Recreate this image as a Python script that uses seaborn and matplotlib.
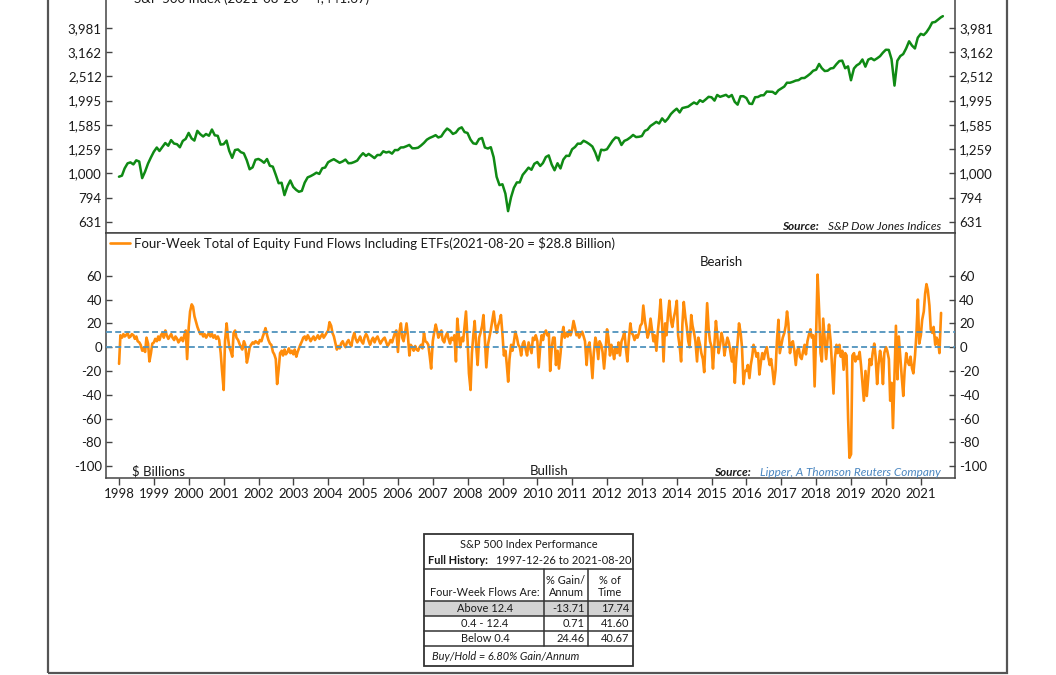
import matplotlib
matplotlib.use("Agg")
import matplotlib.pyplot as plt
import numpy as np
import pandas as pd
import seaborn as sns
from matplotlib.ticker import FixedLocator, FuncFormatter, NullLocator
from matplotlib.patches import Rectangle
from matplotlib.lines import Line2D
from matplotlib.transforms import Affine2D, IdentityTransform

# ---------------- data ----------------
sp500_start = "1997-12-31"          # month-end closes from this month on
sp500_monthly = [
    970,
    980, 1049, 1101, 1111, 1090, 1133, 1120, 957, 1017, 1098, 1163, 1229,
    1279, 1238, 1286, 1335, 1301, 1372, 1328, 1320, 1282, 1362, 1388, 1469,
    1394, 1366, 1498, 1452, 1420, 1454, 1430, 1517, 1436, 1429, 1315, 1320,
    1366, 1240, 1160, 1249, 1256, 1224, 1211, 1134, 1041, 1060, 1139, 1148,
    1130, 1107, 1147, 1076, 1067, 990, 912, 916, 815, 886, 936, 880,
    856, 841, 848, 917, 964, 975, 990, 1008, 996, 1051, 1058, 1112,
    1131, 1145, 1126, 1107, 1121, 1141, 1102, 1104, 1115, 1130, 1174, 1212,
    1181, 1204, 1181, 1157, 1192, 1191, 1234, 1220, 1229, 1207, 1249, 1248,
    1280, 1281, 1295, 1311, 1270, 1270, 1277, 1304, 1336, 1378, 1401, 1418,
    1438, 1407, 1421, 1482, 1531, 1503, 1455, 1474, 1527, 1549, 1481, 1468,
    1379, 1331, 1323, 1386, 1400, 1280, 1267, 1283, 1166, 969, 896, 903,
    826, 700, 798, 873, 919, 919, 987, 1021, 1057, 1036, 1096, 1115,
    1074, 1104, 1169, 1187, 1089, 1031, 1102, 1049, 1141, 1183, 1181, 1258,
    1286, 1327, 1326, 1364, 1345, 1321, 1292, 1219, 1131, 1253, 1247, 1258,
    1312, 1366, 1408, 1398, 1310, 1362, 1379, 1407, 1441, 1412, 1416, 1426,
    1498, 1515, 1569, 1598, 1631, 1606, 1686, 1633, 1682, 1757, 1806, 1848,
    1783, 1859, 1872, 1884, 1924, 1960, 1931, 2003, 1972, 2018, 2068, 2059,
    1995, 2105, 2068, 2086, 2107, 2063, 2104, 1972, 1920, 2079, 2080, 2044,
    1940, 1932, 2060, 2065, 2097, 2099, 2174, 2171, 2168, 2126, 2199, 2239,
    2279, 2364, 2363, 2384, 2412, 2423, 2470, 2472, 2519, 2575, 2648, 2674,
    2824, 2714, 2641, 2648, 2705, 2718, 2816, 2902, 2914, 2712, 2760, 2420,
    2704, 2784, 2834, 2946, 2752, 2942, 2980, 2926, 2977, 3038, 3141, 3231,
    3226, 2954, 2300, 2912, 3044, 3100, 3271, 3500, 3363, 3270, 3622, 3756,
    3714, 3811, 3973, 4181, 4204, 4298, 4395,
]
sp500_last_date = "2021-08-20"
sp500_last_value = 4441.67

# four-week equity fund flows, $ billions, two readings per month (1st, 15th)
flows_1998 = [-14, 10, 8, 11, 9, 10, 12, 8, 9, 11, 10, 7, 9, 5, 4, 2, -3, -1, -4, 8, 3, -12, -5, 3]
flows_1999 = [4, 7, 5, 9, 6, 10, 12, 8, 14, 10, 7, 9, 11, 8, 6, 9, 7, 4, 6, 8, 5, 10, 14, -10]
flows_2000 = [17, 30, 36, 34, 26, 22, 17, 14, 11, 12, 9, 11, 8, 10, 12, 9, 11, 8, 10, 7, 9, 6, -5, -20]
flows_2001 = [-36, 5, 20, 8, 0, -3, -8, 12, 14, 8, 6, 3, 0, -2, 5, 2, -13, -8, 0, 2, 4, 3, 5, 4]
flows_2002 = [3, 6, 5, 9, 12, 16, 10, 6, 3, 2, -4, -6, -10, -31, -18, -5, -3, -7, -2, -6, -4, -1, -5, -3]
flows_2003 = [-6, -2, -8, -4, -1, 2, 5, 8, 9, 6, 10, 8, 5, 7, 9, 6, 8, 10, 7, 9, 11, 8, 10, 12]
flows_2004 = [14, 21, 18, 12, 9, 4, -2, 1, -1, 3, 5, 2, 0, 4, 6, 3, 1, 8, 12, 7, 4, 6, 9, 5]
flows_2005 = [3, 8, 11, 9, 5, 2, 6, 8, 4, 7, 9, 6, 3, 5, 7, 8, 4, 1, 3, 6, 4, 8, 12, 14]
flows_2006 = [-4, 12, 20, 8, 5, 11, 20, 10, -7, 2, 0, -3, 1, -2, -3, 0, 2, -1, 12, 5, 4, 2, -8, -18]
flows_2007 = [5, 12, 19, 14, 8, 11, 14, 6, 4, 9, 12, 7, 3, 8, 6, 10, -12, 24, 10, 0, 8, 5, 18, 30]
flows_2008 = [5, -22, -36, -5, 10, 22, 0, -15, 8, 12, 18, 27, 5, -17, 2, 8, 15, 22, 30, 20, 12, 18, 22, 27]
flows_2009 = [10, -7, -3, -15, -29, -10, 2, -3, 5, 13, 8, 2, 0, -7, 3, 5, -2, -7, 4, 0, -5, 8, 6, 10]
flows_2010 = [5, -17, 2, 10, 6, 12, 14, 10, 12, -20, 0, 8, 8, -15, -3, -18, -5, 10, 17, 8, 12, 9, 14, 10]
flows_2011 = [15, 22, 16, 10, 12, 8, 11, 13, 9, 5, -15, 0, 4, -8, -26, -5, 8, 3, -10, 5, 2, -4, -18, -5]
flows_2012 = [15, 8, -7, 2, -3, -10, 0, -5, 4, -7, 5, 8, 13, 0, -12, 5, 20, 12, 10, 6, 10, 8, 12, 18]
flows_2013 = [20, 35, 22, 15, 8, 12, 24, 15, 5, 10, -3, 12, 25, 40, 18, -12, 20, 10, 28, 39, 22, 17, 25, 30]
flows_2014 = [39, 10, 0, -12, 20, 38, 25, 17, 5, 0, 27, 18, 12, 5, -12, 8, 2, -5, -10, -21, 10, 37, 15, 5]
flows_2015 = [0, -18, 5, 22, 10, -5, 3, 12, 6, -7, 2, 8, 4, -3, -12, 0, -30, -10, 5, 20, 12, 0, -31, -20]
flows_2016 = [-20, -15, -26, -15, -8, 2, -3, -8, -5, -23, -12, -5, -10, -4, 0, -8, -15, -10, -20, -31, -19, 5, 23, -5]
flows_2017 = [2, 8, 12, 18, 30, 20, -5, 3, 5, -2, -15, -3, 0, -8, -10, -4, 2, -6, 5, 10, 15, 8, 10, -33]
flows_2018 = [15, 61, 30, -5, -12, 24, 5, -10, 8, 19, 5, -15, -39, -10, 2, -5, 2, -8, -3, -19, -5, -7, -60, -93]
flows_2019 = [-90, -7, -5, -12, -8, -10, -4, -15, -31, -45, -20, -41, -25, -10, -15, -5, 3, -8, -31, -15, -3, -10, -31, -5]
flows_2020 = [0, -3, -10, -45, -30, -68, -20, 18, -27, 9, -10, -25, -41, -20, -5, -12, -15, -8, -18, -22, -7, 10, 40, 3]
flows_2021 = [10, 23, 30, 45, 53, 48, 35, 15, 12, 17, 2, 8, 5, -5, 28.8]

upper_threshold = 12.4
lower_threshold = 0.4

sp_ticks = [631, 794, 1000, 1259, 1585, 1995, 2512, 3162, 3981]
flow_ticks = [60, 40, 20, 0, -20, -40, -60, -80, -100]
year_ticks = list(range(1998, 2022))

table_title = "S&P 500 Index Performance"
table_history = "1997-12-26 to 2021-08-20"
table_labels = ["Above 12.4", "0.4 - 12.4", "Below 0.4"]
table_gain = ["-13.71", "0.71", "24.46"]
table_time = ["17.74", "41.60", "40.67"]
table_footer = "Buy/Hold = 6.80% Gain/Annum"

# ---------------- frames ----------------
sp_dates = list(pd.date_range(sp500_start, periods=len(sp500_monthly), freq="ME"))
sp_df = pd.DataFrame({"date": sp_dates + [pd.Timestamp(sp500_last_date)],
                      "value": sp500_monthly + [sp500_last_value]})

flow_lists = [flows_1998, flows_1999, flows_2000, flows_2001, flows_2002, flows_2003,
              flows_2004, flows_2005, flows_2006, flows_2007, flows_2008, flows_2009,
              flows_2010, flows_2011, flows_2012, flows_2013, flows_2014, flows_2015,
              flows_2016, flows_2017, flows_2018, flows_2019, flows_2020, flows_2021]
f_dates, f_vals = [], []
for yr, vals in zip(range(1998, 2022), flow_lists):
    f_dates += list(pd.date_range(f"{yr}-01-01", periods=len(vals), freq="SMS"))
    f_vals += vals
flow_df = pd.DataFrame({"date": f_dates, "value": f_vals})

# ---------------- style ----------------
sns.set_style("white")
plt.rcParams["font.family"] = ["Lato", "DejaVu Sans"]
plt.rcParams["axes.edgecolor"] = "#444444"
plt.rcParams["axes.linewidth"] = 1.1

W, H = 1056, 675
fig = plt.figure(figsize=(W / 100, H / 100), dpi=100)


def rect(x0, y0, x1, y1):
    return [x0 / W, 1 - y1 / H, (x1 - x0) / W, (y1 - y0) / H]


AX_L, AX_R = 106, 955
TOP_T, MID, BOT = -12, 233, 478
ax1 = fig.add_axes(rect(AX_L, TOP_T, AX_R, MID))
ax2 = fig.add_axes(rect(AX_L, MID, AX_R, BOT), sharex=ax1)

GREEN = "#0f8a14"
ORANGE = "#ff8c0a"
DASH = "#4f93bd"
TXT = "#1a1a1a"
FS = 9.5

sns.lineplot(data=sp_df, x="date", y="value", ax=ax1, color=GREEN, lw=1.8,
             label="S&P 500 Index (2021-08-20 = 4,441.67)")
ax1.set_yscale("log")
ax1.set_ylim(569, 5800)
ax1.yaxis.set_major_locator(FixedLocator(sp_ticks))
ax1.yaxis.set_minor_locator(NullLocator())
ax1.yaxis.set_major_formatter(FuncFormatter(lambda v, p: f"{v:,.0f}"))

sns.lineplot(data=flow_df, x="date", y="value", ax=ax2, color=ORANGE, lw=1.9,
             label="Four-Week Total of Equity Fund Flows Including ETFs(2021-08-20 = $28.8 Billion)")
for thr in (upper_threshold, lower_threshold):
    ax2.axhline(thr, color=DASH, lw=1.3, ls=(0, (3.3, 1.8)), zorder=3)
ax2.set_ylim(-110, 96)
ax2.yaxis.set_major_locator(FixedLocator(flow_ticks))
ax2.yaxis.set_major_formatter(FuncFormatter(lambda v, p: f"{v:.0f}"))

ax2.set_xlim(pd.Timestamp("1997-08-17"), pd.Timestamp("2021-12-25"))
ax2.set_xticks([pd.Timestamp(f"{y}-01-01") for y in year_ticks])
ax2.set_xticklabels([str(y) for y in year_ticks])

for ax in (ax1, ax2):
    ax.set_xlabel("")
    ax.set_ylabel("")
    ax.tick_params(axis="y", which="both", left=True, right=True, labelleft=True,
                   labelright=True, direction="in", length=4, width=1,
                   colors="#444444", labelcolor=TXT, labelsize=FS, pad=3)
    for s in ax.spines.values():
        s.set_visible(True)
        s.set_color("#444444")
ax1.tick_params(axis="x", bottom=False, labelbottom=False)
ax2.tick_params(axis="x", bottom=True, direction="out", length=5, width=1,
                colors="#444444", labelcolor=TXT, labelsize=FS, pad=2)

for ax in (ax1, ax2):
    ax.legend(loc="upper left", frameon=False, fontsize=FS, handlelength=1.5,
              handletextpad=0.35, borderaxespad=0.15, borderpad=0.15,
              labelcolor=TXT)


# ---------------- annotations ----------------
def ax2_xy(x, y):
    return ((x - AX_L) / (AX_R - AX_L), (BOT - y) / (BOT - MID))


def ax1_xy(x, y):
    return ((x - AX_L) / (AX_R - AX_L), (MID - y) / (MID - TOP_T))


ax2.text(*ax2_xy(721, 262), "Bearish", transform=ax2.transAxes, ha="center",
         va="center", fontsize=FS, color=TXT)
ax2.text(*ax2_xy(549, 471), "Bullish", transform=ax2.transAxes, ha="center",
         va="center", fontsize=FS, color=TXT)
ax2.text(*ax2_xy(132, 471), "$ Billions", transform=ax2.transAxes, ha="left",
         va="center", fontsize=FS, color=TXT)

src_fs = 8.5
name2 = ax2.text(*ax2_xy(941, 472), "Lipper, A Thomson Reuters Company",
                 transform=ax2.transAxes, ha="right", va="center",
                 fontsize=src_fs, style="italic", color="#4a86c0")
name1 = ax1.text(*ax1_xy(941, 226), "S&P Dow Jones Indices",
                 transform=ax1.transAxes, ha="right", va="center",
                 fontsize=src_fs, style="italic", color=TXT)

fig.canvas.draw()
renderer = fig.canvas.get_renderer()
for nm, ax, yy in ((name2, ax2, 472), (name1, ax1, 226)):
    bb = nm.get_window_extent(renderer)
    fig.text(bb.x0 - 9, H - yy, "Source:", transform=IdentityTransform(),
             ha="right", va="center", fontsize=src_fs, style="italic",
             weight="bold", color=TXT)

# outer frame
fig.add_artist(Rectangle((48 / W, 2 / H), (1007 - 48) / W, 1.2,
                         transform=fig.transFigure, fill=False,
                         ec="#555555", lw=1.6))

# ---------------- table ----------------
pix = Affine2D().scale(1 / W, -1 / H).translate(0, 1) + fig.transFigure
TL, TR, TT, TB = 424, 633, 534, 666
C1, C2 = 544, 588
R_HEAD, R_H2, R1, R2, R3 = 569, 601, 616, 631, 646

fig.add_artist(Rectangle((TL, R_H2), TR - TL, R1 - R_H2, transform=pix,
                         fc="#d3d3d3", ec="none", zorder=1))
fig.add_artist(Rectangle((TL, TT), TR - TL, TB - TT, transform=pix,
                         fill=False, ec="#333333", lw=1.3, zorder=3))
for yy in (R_HEAD, R_H2, R1, R2, R3):
    fig.add_artist(Line2D([TL, TR], [yy, yy], transform=pix, color="#333333",
                          lw=1.1, zorder=3))
for xx in (C1, C2):
    fig.add_artist(Line2D([xx, xx], [R_HEAD, R3], transform=pix,
                          color="#333333", lw=1.1, zorder=3))

TFS = 7.9
def ttext(x, y, s, **kw):
    kw.setdefault("ha", "center")
    fig.text(x, y, s, transform=pix, va="center", fontsize=TFS, color=TXT,
             zorder=4, **kw)

ttext((TL + TR) / 2, 545, table_title)
ttext(428, 561, "Full History:", ha="left", weight="bold")
ttext(631, 561, table_history, ha="right")
ttext(485, 592, "Four-Week Flows Are:")
ttext(566, 581, "% Gain/")
ttext(566, 592, "Annum")
ttext(610, 581, "% of")
ttext(610, 592, "Time")
for i, (lab, g, t) in enumerate(zip(table_labels, table_gain, table_time)):
    yc = R_H2 + 7.5 + 15 * i
    ttext(485, yc, lab)
    ttext(585, yc, g, ha="right")
    ttext(629, yc, t, ha="right")
ttext(432, 656, table_footer, ha="left", style="italic")

fig.savefig("out.png", dpi=100)
